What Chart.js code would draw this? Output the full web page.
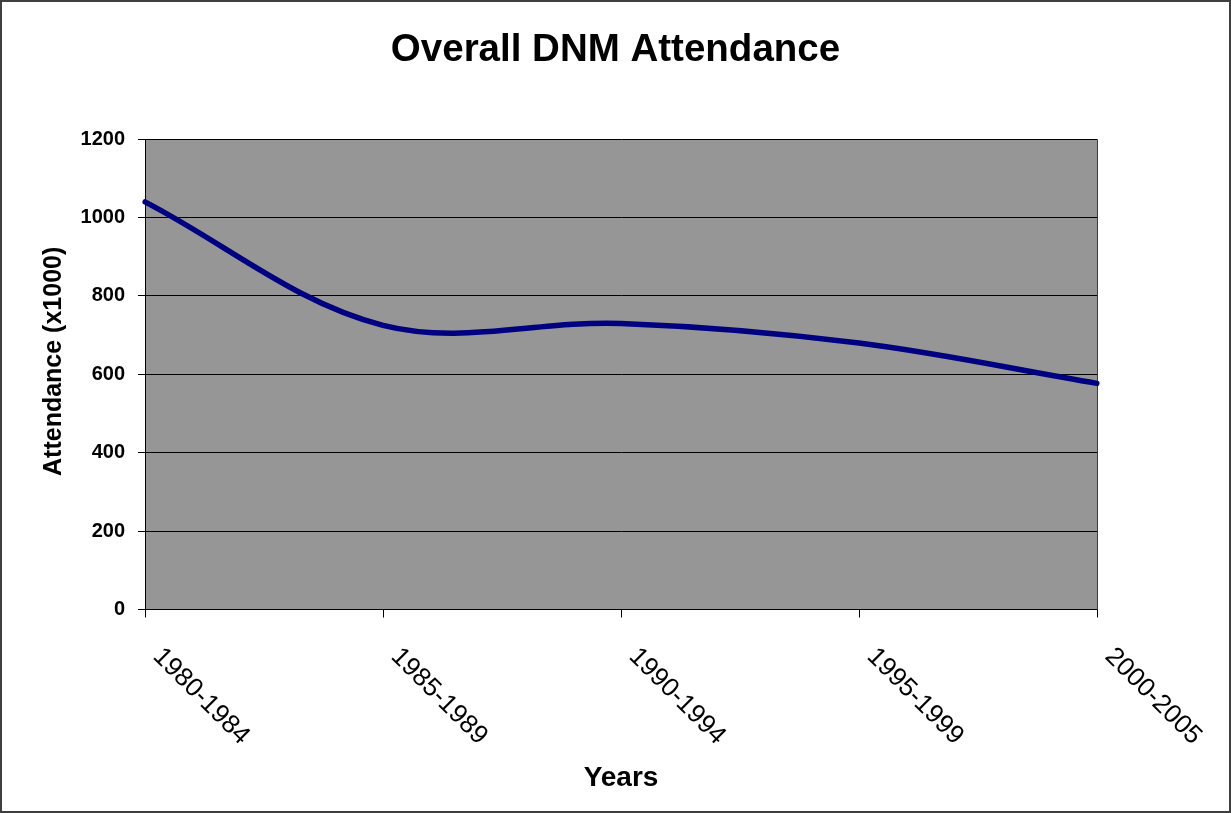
<!DOCTYPE html>
<html>
<head>
<meta charset="utf-8">
<title>Overall DNM Attendance</title>
<script src="https://cdn.jsdelivr.net/npm/chart.js@4/dist/chart.umd.min.js"></script>
<style>
  html, body { margin: 0; padding: 0; background: #fff; }
  canvas { display: block; }
</style>
</head>
<body>
<canvas id="chart" width="1231" height="813" style="width:1231px;height:813px"></canvas>
<script>
// Attendance per five-year period, in thousands
const periods = ['1980-1984', '1985-1989', '1990-1994', '1995-1999', '2000-2005'];
const attendance = [1040, 725, 730, 680, 577];
const yTickValues = [0, 200, 400, 600, 800, 1000, 1200];

const chartTitle = 'Overall DNM Attendance';
const xAxisTitle = 'Years';
const yAxisTitle = 'Attendance (x1000)';

const FONT = "'Liberation Sans', Arial, Helvetica, sans-serif";
Chart.defaults.font.family = FONT;
Chart.defaults.color = '#000';

// Grey plot panel, outer frame, vertical axis title and slanted category labels
const panel = {
  id: 'panel',
  beforeDraw(chart) {
    const { ctx, chartArea: a } = chart;
    ctx.save();
    ctx.fillStyle = '#ffffff';
    ctx.fillRect(0, 0, chart.width, chart.height);
    ctx.fillStyle = '#969696';
    ctx.fillRect(a.left, a.top, a.right - a.left, a.bottom - a.top);
    ctx.restore();
  },
  beforeDatasetsDraw(chart) {
    const { ctx, chartArea: a } = chart;
    ctx.save();
    ctx.strokeStyle = '#3c3c3c';
    ctx.lineWidth = 1;
    ctx.beginPath();
    ctx.moveTo(Math.round(a.right) + 0.5, a.top);
    ctx.lineTo(Math.round(a.right) + 0.5, a.bottom);
    ctx.stroke();
    ctx.restore();
  },
  afterDraw(chart) {
    const { ctx } = chart;
    const xs = chart.scales.x;
    const ys = chart.scales.y;
    ctx.save();
    ctx.fillStyle = '#000';

    // category labels, slanted downwards to the right
    ctx.font = '26px ' + FONT;
    ctx.textAlign = 'left';
    ctx.textBaseline = 'alphabetic';
    chart.data.labels.forEach((label, i) => {
      const x = xs.getPixelForTick(i);
      ctx.save();
      ctx.translate(x + 7, xs.top + 48);
      ctx.rotate(Math.PI / 4);
      ctx.fillText(label, 0, 0);
      ctx.restore();
    });

    // vertical axis title
    ctx.font = 'bold 25px ' + FONT;
    ctx.textAlign = 'center';
    ctx.textBaseline = 'middle';
    ctx.save();
    ctx.translate(ys.left + 54, (ys.top + ys.bottom) / 2 - 13);
    ctx.rotate(-Math.PI / 2);
    ctx.fillText(yAxisTitle, 0, 0);
    ctx.restore();

    // outer frame
    ctx.strokeStyle = '#3f3f3f';
    ctx.lineWidth = 2;
    ctx.strokeRect(1, 1, chart.width - 2, chart.height - 2);
    ctx.restore();
  }
};

new Chart(document.getElementById('chart'), {
  type: 'line',
  data: {
    labels: periods,
    datasets: [{
      label: 'Attendance',
      data: attendance,
      borderColor: '#000080',
      borderWidth: 5.5,
      borderCapStyle: 'round',
      borderJoinStyle: 'round',
      tension: 0.35,
      pointRadius: 0,
      pointHoverRadius: 0,
      fill: false
    }]
  },
  options: {
    responsive: false,
    animation: false,
    devicePixelRatio: 1,
    layout: { padding: 0 },
    plugins: {
      legend: { display: false },
      tooltip: { enabled: false },
      title: {
        display: true,
        text: chartTitle,
        color: '#000',
        font: { size: 38.5, weight: 'bold', family: FONT },
        padding: { top: 27, bottom: 66 }
      }
    },
    scales: {
      x: {
        type: 'category',
        offset: false,
        afterFit(scale) { scale.height = 203.5; },
        grid: {
          drawOnChartArea: false,
          drawTicks: true,
          tickLength: 8,
          color: '#000',
          lineWidth: 1
        },
        border: { display: true, color: '#000', width: 1 },
        ticks: { display: false },
        title: {
          display: true,
          text: xAxisTitle,
          color: '#000',
          font: { size: 28, weight: 'bold', family: FONT },
          padding: { top: 0, bottom: 18 }
        }
      },
      y: {
        min: 0,
        max: 1200,
        afterBuildTicks(scale) { scale.ticks = yTickValues.map(v => ({ value: v })); },
        afterFit(scale) { scale.width = 145; },
        grid: {
          drawOnChartArea: true,
          drawTicks: true,
          tickLength: 7,
          color: '#000',
          lineWidth: 1
        },
        border: { display: true, color: '#000', width: 1 },
        ticks: {
          color: '#000',
          padding: 13,
          font: { size: 20, weight: 'bold', family: FONT },
          callback: (v) => String(v)
        },
        title: { display: false }
      },
      // empty right-hand margin beside the plot panel
      margin: {
        type: 'linear',
        position: 'right',
        display: true,
        afterFit(scale) { scale.width = 134; },
        grid: { display: false, drawTicks: false },
        border: { display: false },
        ticks: { display: false },
        title: { display: false }
      }
    }
  },
  plugins: [panel]
});
</script>
</body>
</html>
